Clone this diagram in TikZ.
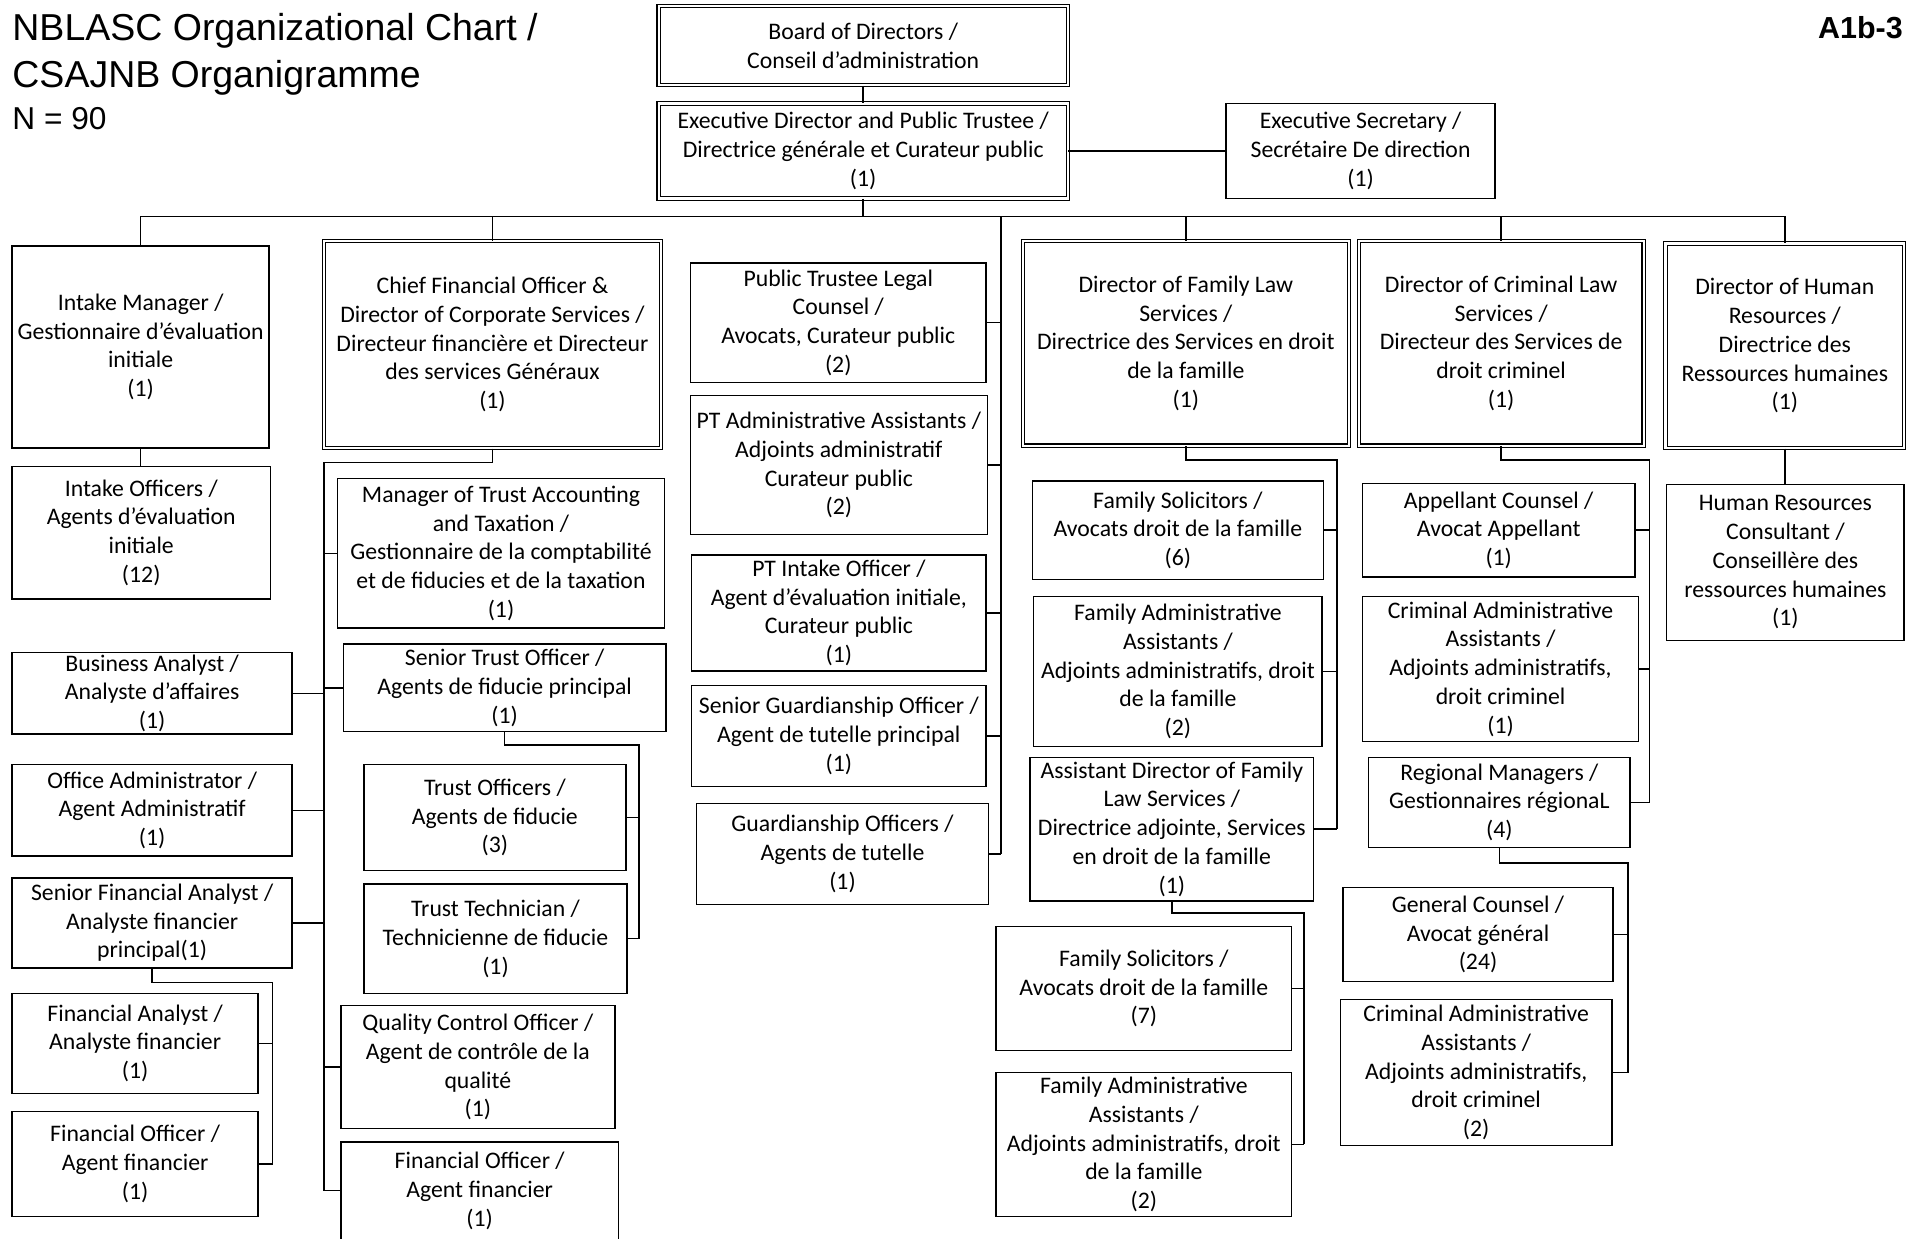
\documentclass[tikz,border=0pt]{standalone}
\usepackage{fontspec}
\setmainfont{Carlito}
\newfontfamily\headfont{Liberation Sans}

\begin{document}
\begin{tikzpicture}[
  x=1pt, y=-1pt,
  font=\fontsize{19.5}{23.6}\selectfont,
  post/.style 2 args={
    draw, line width=1.2pt, align=center,
    minimum width=#1pt, minimum height=#2pt,
    inner xsep=2pt, inner ysep=0pt
  },
  head/.style 2 args={post={#1}{#2}, double, double distance=1.8pt, line width=0.9pt},
  link/.style={line width=1.2pt}
]
\useasboundingbox (0,0) rectangle (1568,1017);

% ── Title ────────────────────────────────────────────────────────────────────
\node[font=\headfont\fontsize{30.8}{38}\selectfont, anchor=north west,
      align=left, inner sep=0pt] (title) at (10,11)
  {NBLASC Organizational Chart /\\CSAJNB Organigramme};
\node[font=\headfont\fontsize{26}{30}\selectfont, anchor=north west,
      inner sep=0pt] (count) at (10,88) {N = 90};
\node[font=\headfont\bfseries\fontsize{25}{28}\selectfont, anchor=north east,
      inner sep=0pt] (code) at (1563,13) {A1b-3};

% ── Board and executive ──────────────────────────────────────────────────────
\node[head={336}{65}] (board) at (709,37.5)
  {Board of Directors /\\Conseil d’administration};
\node[head={336}{78}] (ed) at (709,124)
  {Executive Director and Public Trustee /\\Directrice générale et Curateur public\\(1)};
\node[post={221}{78}] (execSec) at (1117.5,124)
  {Executive Secretary /\\Secrétaire De direction\\(1)};

% ── Directors ────────────────────────────────────────────────────────────────
\node[post={211}{166}] (intakeMgr) at (115.5,285)
  {Intake Manager /\\Gestionnaire d’évaluation\\initiale\\(1)};
\node[head={277}{170}] (cfo) at (404.5,283)
  {Chief Financial Officer \&\\Director of Corporate Services /\\Directeur financière et Directeur\\des services Généraux\\(1)};
\node[head={268}{168}] (dirFam) at (974,282)
  {Director of Family Law\\Services /\\Directrice des Services en droit\\de la famille\\(1)};
\node[head={234}{168}] (dirCrim) at (1233,282)
  {Director of Criminal Law\\Services /\\Directeur des Services de\\droit criminel\\(1)};
\node[head={196}{168}] (dirHR) at (1466,284)
  {Director of Human\\Resources /\\Directrice des\\Ressources humaines\\(1)};

% ── Intake ───────────────────────────────────────────────────────────────────
\node[post={212}{109}] (intakeOff) at (116,437.5)
  {Intake Officers /\\Agents d’évaluation\\initiale\\(12)};

% ── Corporate services ───────────────────────────────────────────────────────
\node[post={269}{123}] (trustAcct) at (411.5,454.5)
  {Manager of Trust Accounting\\and Taxation /\\Gestionnaire de la comptabilité\\et de fiducies et de la taxation\\(1)};
\node[post={230}{67}] (busAnalyst) at (125,569.5)
  {Business Analyst /\\Analyste d’affaires\\(1)};
\node[post={265}{72}] (srTrust) at (414.5,565)
  {Senior Trust Officer /\\Agents de fiducie principal\\(1)};
\node[post={230}{75}] (officeAdm) at (125,665.5)
  {Office Administrator /\\Agent Administratif\\(1)};
\node[post={215}{87}] (trustOff) at (406.5,671.5)
  {Trust Officers /\\Agents de fiducie\\(3)};
\node[post={230}{74}] (srFinAn) at (125,758)
  {Senior Financial Analyst /\\Analyste financier\\principal(1)};
\node[post={216}{90}] (trustTech) at (407,771)
  {Trust Technician /\\Technicienne de fiducie\\(1)};
\node[post={202}{82}] (finAn) at (111,857)
  {Financial Analyst /\\Analyste financier\\(1)};
\node[post={225}{101}] (qcOff) at (392.5,876.5)
  {Quality Control Officer /\\Agent de contrôle de la\\qualité\\(1)};
\node[post={202}{86}] (finOffL) at (111,956)
  {Financial Officer /\\Agent financier\\(1)};
\node[post={228}{80}] (finOffR) at (394,978)
  {Financial Officer /\\Agent financier\\(1)};

% ── Public trustee ───────────────────────────────────────────────────────────
\node[post={243}{98}] (ptLegal) at (688.5,265)
  {Public Trustee Legal\\Counsel /\\Avocats, Curateur public\\(2)};
\node[post={244}{114}] (ptAdmin) at (689,382)
  {PT Administrative Assistants /\\Adjoints administratif\\Curateur public\\(2)};
\node[post={242}{95}] (ptIntake) at (689,503.5)
  {PT Intake Officer /\\Agent d’évaluation initiale,\\Curateur public\\(1)};
\node[post={242}{83}] (srGuard) at (689,604.5)
  {Senior Guardianship Officer /\\Agent de tutelle principal\\(1)};
\node[post={240}{83}] (guard) at (692,701.5)
  {Guardianship Officers /\\Agents de tutelle\\(1)};

% ── Family law ───────────────────────────────────────────────────────────────
\node[post={239}{81}] (famSol6) at (967.5,435.5)
  {Family Solicitors /\\Avocats droit de la famille\\(6)};
\node[post={237}{123}] (famAdmA) at (967.5,551.5)
  {Family Administrative\\Assistants /\\Adjoints administratifs, droit\\de la famille\\(2)};
\node[post={233}{118}] (asstDir) at (962.5,681)
  {Assistant Director of Family\\Law Services /\\Directrice adjointe, Services\\en droit de la famille\\(1)};
\node[post={243}{102}] (famSol7) at (939.5,812)
  {Family Solicitors /\\Avocats droit de la famille\\(7)};
\node[post={243}{118}] (famAdmB) at (939.5,940)
  {Family Administrative\\Assistants /\\Adjoints administratifs, droit\\de la famille\\(2)};

% ── Criminal law ─────────────────────────────────────────────────────────────
\node[post={224}{77}] (appellant) at (1231,435.5)
  {Appellant Counsel /\\Avocat Appellant\\(1)};
\node[post={227}{119}] (crimAdmA) at (1232.5,549.5)
  {Criminal Administrative\\Assistants /\\Adjoints administratifs,\\droit criminel\\(1)};
\node[post={215}{74}] (regMgr) at (1231.5,659)
  {Regional Managers /\\Gestionnaires régionaL\\(4)};
\node[post={222}{77}] (genCounsel) at (1214,767.5)
  {General Counsel /\\Avocat général\\(24)};
\node[post={223}{120}] (crimAdmB) at (1212.5,881)
  {Criminal Administrative\\Assistants /\\Adjoints administratifs,\\droit criminel\\(2)};

% ── Human resources ──────────────────────────────────────────────────────────
\node[post={195}{128}] (hrCons) at (1466.5,462)
  {Human Resources\\Consultant /\\Conseillère des\\ressources humaines\\(1)};

% ── Connectors ───────────────────────────────────────────────────────────────
\coordinate (bus) at (709,178);
\coordinate (ptSpine) at (822,178);
\coordinate (cfoSpine) at (266,380);
\coordinate (trustSpine) at (525,612);
\coordinate (finSpine) at (224,807);
\coordinate (famSpine) at (1098,378);
\coordinate (asstSpine) at (1071,750);
\coordinate (crimSpine) at (1355,378);
\coordinate (regSpine) at (1337,709);

\draw[link] (board.south) -- (ed.north);
\draw[link] (ed.east) -- (execSec.west);
\draw[link] (ed.south) -- (bus);
\draw[link] (intakeMgr.north) |- (bus) -| (dirHR.north);
\foreach \n in {cfo, dirFam, dirCrim}
  \draw[link] (\n.north) -- (\n.north |- bus);

\draw[link] (intakeMgr.south) -- (intakeMgr.south |- intakeOff.north);
\draw[link] (dirHR.south) -- (dirHR.south |- hrCons.north);

\draw[link] (ptSpine) -- (ptSpine |- guard.east);
\foreach \n in {ptLegal, ptAdmin, ptIntake, srGuard, guard}
  \draw[link] (\n.east) -- (ptSpine |- \n.east);

\draw[link] (cfo.south) |- (cfoSpine) -- (cfoSpine |- finOffR.west);
\foreach \n in {trustAcct, srTrust, qcOff, finOffR}
  \draw[link] (\n.west) -- (cfoSpine |- \n.west);
\foreach \n in {busAnalyst, officeAdm, srFinAn}
  \draw[link] (\n.east) -- (cfoSpine |- \n.east);

\draw[link] (srTrust.south) |- (trustSpine) -- (trustSpine |- trustTech.east);
\foreach \n in {trustOff, trustTech}
  \draw[link] (\n.east) -- (trustSpine |- \n.east);

\draw[link] (srFinAn.south) |- (finSpine) -- (finSpine |- finOffL.east);
\foreach \n in {finAn, finOffL}
  \draw[link] (\n.east) -- (finSpine |- \n.east);

\draw[link] (dirFam.south) |- (famSpine) -- (famSpine |- asstDir.east);
\foreach \n in {famSol6, famAdmA, asstDir}
  \draw[link] (\n.east) -- (famSpine |- \n.east);

\draw[link] (asstDir.south) |- (asstSpine) -- (asstSpine |- famAdmB.east);
\foreach \n in {famSol7, famAdmB}
  \draw[link] (\n.east) -- (asstSpine |- \n.east);

\draw[link] (dirCrim.south) |- (crimSpine) -- (crimSpine |- regMgr.east);
\foreach \n in {appellant, crimAdmA, regMgr}
  \draw[link] (\n.east) -- (crimSpine |- \n.east);

\draw[link] (regMgr.south) |- (regSpine) -- (regSpine |- crimAdmB.east);
\foreach \n in {genCounsel, crimAdmB}
  \draw[link] (\n.east) -- (regSpine |- \n.east);

\end{tikzpicture}
\end{document}
